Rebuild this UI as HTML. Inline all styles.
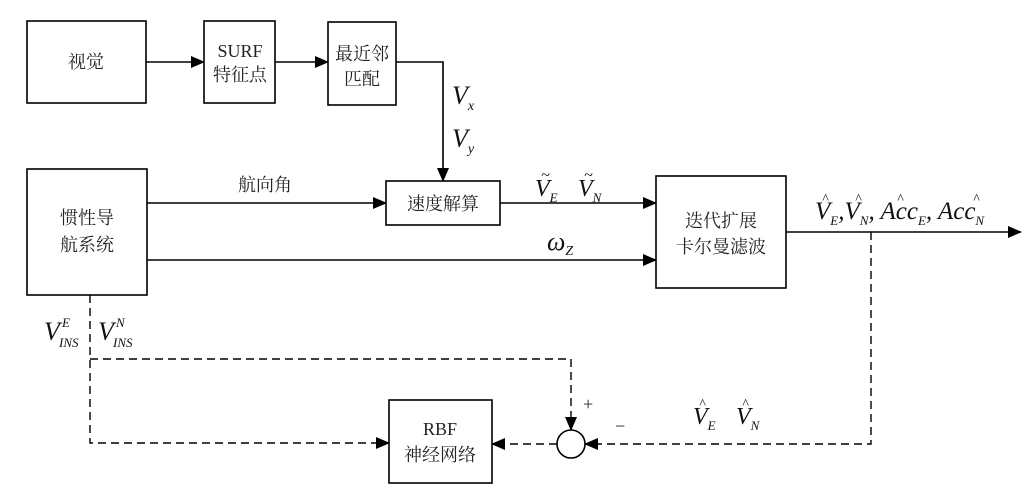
<!DOCTYPE html>
<html><head><meta charset="utf-8"><style>
body{margin:0;background:#fff}
svg{display:block}
.c{font-family:"Liberation Serif","Noto Serif CJK SC","Noto Sans CJK SC",serif;font-size:18px;fill:#222}
.m{font-family:"Liberation Serif",serif;font-style:italic;fill:#111}
</style></head><body>
<svg width="1034" height="489" viewBox="0 0 1034 489">
<defs>
<marker id="a" markerWidth="14" markerHeight="12" refX="13" refY="6" orient="auto" markerUnits="userSpaceOnUse"><path d="M0,0 L14,6 L0,12 Z" fill="#000"/></marker>
</defs>
<g fill="none" stroke="#000" stroke-width="1.6">
<rect x="27" y="21" width="119" height="82"/>
<rect x="204" y="21" width="71" height="82"/>
<rect x="328" y="22" width="68" height="83"/>
<rect x="27" y="169" width="120" height="126"/>
<rect x="386" y="181" width="114" height="44"/>
<rect x="656" y="176" width="130" height="112"/>
<rect x="389" y="400" width="103" height="83"/>
<line x1="146" y1="62" x2="204" y2="62" marker-end="url(#a)"/>
<line x1="275" y1="62" x2="328" y2="62" marker-end="url(#a)"/>
<polyline points="396,62 443,62 443,181" marker-end="url(#a)"/>
<line x1="147" y1="203" x2="386" y2="203" marker-end="url(#a)"/>
<line x1="500" y1="203" x2="656" y2="203" marker-end="url(#a)"/>
<line x1="147" y1="260" x2="656" y2="260" marker-end="url(#a)"/>
<line x1="786" y1="232" x2="1021" y2="232" marker-end="url(#a)"/>
</g>
<g fill="none" stroke="#000" stroke-width="1.4" stroke-dasharray="8,5">
<polyline points="90,295 90,443 389,443" marker-end="url(#a)"/>
<polyline points="90,359 571,359 571,430" marker-end="url(#a)"/>
<polyline points="871,232 871,444 585,444" marker-end="url(#a)"/>
<line x1="557" y1="444" x2="492" y2="444" marker-end="url(#a)"/>
</g>
<circle cx="571" cy="444" r="14" fill="#fff" stroke="#000" stroke-width="1.6"/>
<text class="c" x="86" y="68" text-anchor="middle">视觉</text>
<text class="c" x="240" y="57" text-anchor="middle">SURF</text>
<text class="c" x="240" y="81" text-anchor="middle">特征点</text>
<text class="c" x="362" y="60" text-anchor="middle">最近邻</text>
<text class="c" x="362" y="85" text-anchor="middle">匹配</text>
<text class="c" x="87" y="224" text-anchor="middle">惯性导</text>
<text class="c" x="87" y="251" text-anchor="middle">航系统</text>
<text class="c" x="265" y="191" text-anchor="middle">航向角</text>
<text class="c" x="443" y="210" text-anchor="middle">速度解算</text>
<text class="c" x="721" y="227" text-anchor="middle">迭代扩展</text>
<text class="c" x="721" y="253" text-anchor="middle">卡尔曼滤波</text>
<text class="c" x="440" y="435" text-anchor="middle">RBF</text>
<text class="c" x="440" y="461" text-anchor="middle">神经网络</text>
<text class="m" x="452" y="104" font-size="26">V<tspan font-size="14" dy="6">x</tspan></text>
<text class="m" x="452" y="147" font-size="26">V<tspan font-size="14" dy="6">y</tspan></text>
<text class="m" x="535" y="196" font-size="24">V<tspan font-size="13" dy="6">E</tspan></text>
<text class="m" x="541" y="180" font-size="16">~</text>
<text class="m" x="578" y="196" font-size="24">V<tspan font-size="13" dy="6">N</tspan></text>
<text class="m" x="584" y="180" font-size="16">~</text>
<text class="m" x="547" y="250" font-size="26">ω<tspan font-size="14" dy="5">Z</tspan></text>
<text class="m" x="815" y="219" font-size="25">V<tspan font-size="13" dy="6">E</tspan><tspan dy="-6">,V</tspan><tspan font-size="13" dy="6">N</tspan><tspan dy="-6">, Acc</tspan><tspan font-size="13" dy="6">E</tspan><tspan dy="-6">, Acc</tspan><tspan font-size="13" dy="6">N</tspan></text>
<text class="m" x="822" y="203" font-size="14">^</text>
<text class="m" x="855" y="203" font-size="14">^</text>
<text class="m" x="897" y="203" font-size="14">^</text>
<text class="m" x="973" y="203" font-size="14">^</text>
<text class="m" x="44" y="340" font-size="26">V</text>
<text class="m" x="62" y="327" font-size="13">E</text>
<text class="m" x="59" y="347" font-size="13">INS</text>
<text class="m" x="98" y="340" font-size="26">V</text>
<text class="m" x="116" y="327" font-size="13">N</text>
<text class="m" x="113" y="347" font-size="13">INS</text>
<text class="c" x="583" y="410" font-size="22">+</text>
<text class="c" x="615" y="432" font-size="22">−</text>
<text class="m" x="693" y="424" font-size="24">V<tspan font-size="13" dy="6">E</tspan></text>
<text class="m" x="699" y="408" font-size="14">^</text>
<text class="m" x="736" y="424" font-size="24">V<tspan font-size="13" dy="6">N</tspan></text>
<text class="m" x="742" y="408" font-size="14">^</text>
</svg>
</body></html>
